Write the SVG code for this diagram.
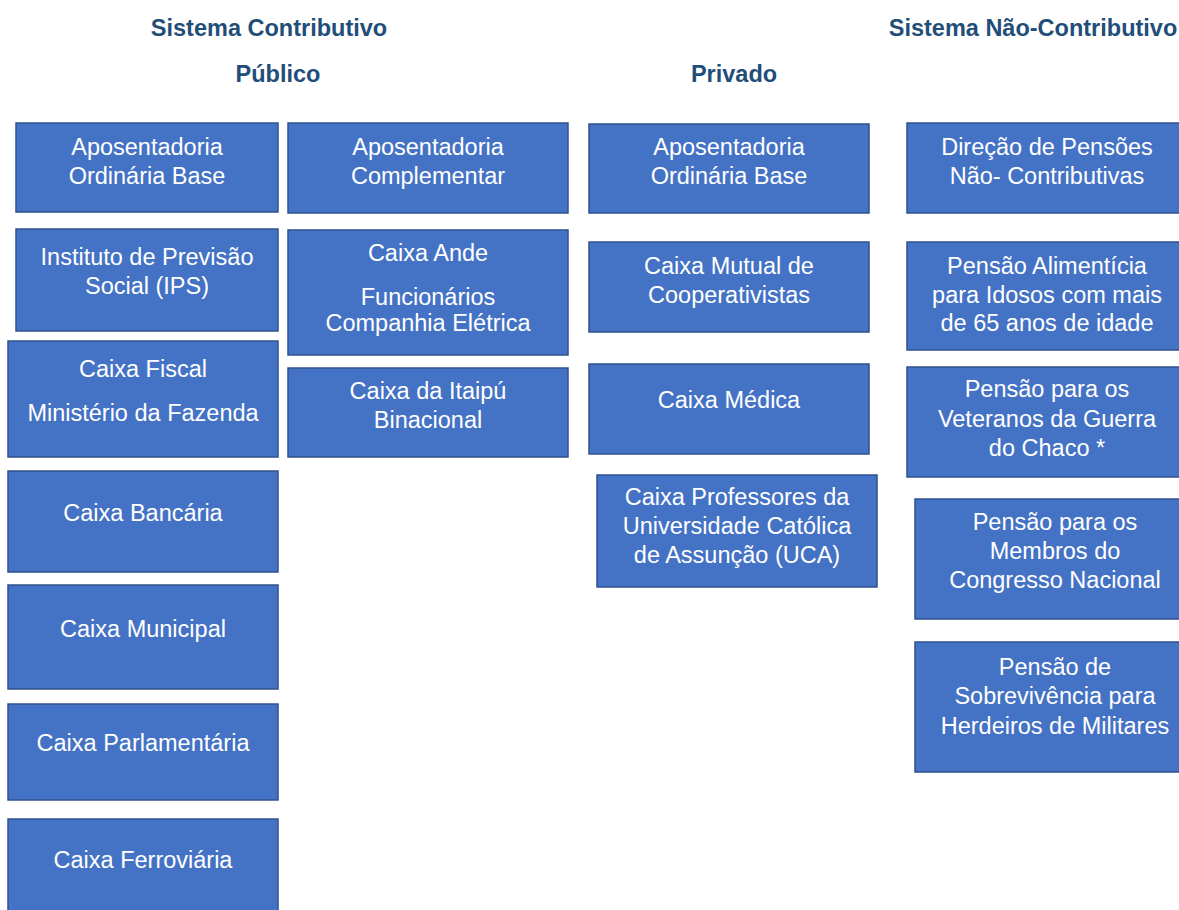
<svg xmlns="http://www.w3.org/2000/svg" width="1179" height="910" viewBox="0 0 1179 910">
<style>
.box{fill:#4472C4;stroke:#2F528F;stroke-width:1.5}
.t{font-family:"Liberation Sans",Arial,sans-serif;font-size:23.5px;fill:#FFFFFF;text-anchor:middle}
.h{font-family:"Liberation Sans",Arial,sans-serif;font-size:23.5px;font-weight:bold;fill:#1F4E79;text-anchor:middle}
</style>
<rect width="1179" height="910" fill="#FFFFFF"/>
<g id="titles">
<text class="h" x="269" y="36">Sistema Contributivo</text>
<text class="h" x="278" y="82">Público</text>
<text class="h" x="734" y="82">Privado</text>
<text class="h" x="1033" y="36">Sistema Não-Contributivo</text>
</g>
<g id="connectors"></g>
<g id="pub1"><rect class="box" x="16" y="123" width="262" height="89"/><text class="t" x="147" y="155">Aposentadoria</text><text class="t" x="147" y="184">Ordinária Base</text></g>
<g id="pub2"><rect class="box" x="16" y="229" width="262" height="102"/><text class="t" x="147" y="265">Instituto de Previsão</text><text class="t" x="147" y="294">Social (IPS)</text></g>
<g id="pub3"><rect class="box" x="8" y="341" width="270" height="116"/><text class="t" x="143" y="377">Caixa Fiscal</text><text class="t" x="143" y="421">Ministério da Fazenda</text></g>
<g id="pub4"><rect class="box" x="8" y="471" width="270" height="101"/><text class="t" x="143" y="521">Caixa Bancária</text></g>
<g id="pub5"><rect class="box" x="8" y="585" width="270" height="104"/><text class="t" x="143" y="637">Caixa Municipal</text></g>
<g id="pub6"><rect class="box" x="8" y="704" width="270" height="96"/><text class="t" x="143" y="751">Caixa Parlamentária</text></g>
<g id="pub7"><rect class="box" x="8" y="819" width="270" height="100"/><text class="t" x="143" y="868">Caixa Ferroviária</text></g>
<g id="comp1"><rect class="box" x="288" y="123" width="280" height="90"/><text class="t" x="428" y="155">Aposentadoria</text><text class="t" x="428" y="184">Complementar</text></g>
<g id="comp2"><rect class="box" x="288" y="230" width="280" height="125"/><text class="t" x="428" y="261">Caixa Ande</text><text class="t" x="428" y="305">Funcionários</text><text class="t" x="428" y="331">Companhia Elétrica</text></g>
<g id="comp3"><rect class="box" x="288" y="368" width="280" height="89"/><text class="t" x="428" y="399">Caixa da Itaipú</text><text class="t" x="428" y="428">Binacional</text></g>
<g id="priv1"><rect class="box" x="589" y="124" width="280" height="89"/><text class="t" x="729" y="155">Aposentadoria</text><text class="t" x="729" y="184">Ordinária Base</text></g>
<g id="priv2"><rect class="box" x="589" y="242" width="280" height="90"/><text class="t" x="729" y="274">Caixa Mutual de</text><text class="t" x="729" y="303">Cooperativistas</text></g>
<g id="priv3"><rect class="box" x="589" y="364" width="280" height="90"/><text class="t" x="729" y="408">Caixa Médica</text></g>
<g id="priv4"><rect class="box" x="597" y="475" width="280" height="112"/><text class="t" x="737" y="505">Caixa Professores da</text><text class="t" x="737" y="534">Universidade Católica</text><text class="t" x="737" y="563">de Assunção (UCA)</text></g>
<g id="nc1"><rect class="box" x="907" y="123" width="280" height="90"/><text class="t" x="1047" y="155">Direção de Pensões</text><text class="t" x="1047" y="184">Não- Contributivas</text></g>
<g id="nc2"><rect class="box" x="907" y="242" width="280" height="108"/><text class="t" x="1047" y="274">Pensão Alimentícia</text><text class="t" x="1047" y="303">para Idosos com mais</text><text class="t" x="1047" y="331">de 65 anos de idade</text></g>
<g id="nc3"><rect class="box" x="907" y="367" width="280" height="110"/><text class="t" x="1047" y="397">Pensão para os</text><text class="t" x="1047" y="427">Veteranos da Guerra</text><text class="t" x="1047" y="456">do Chaco *</text></g>
<g id="nc4"><rect class="box" x="915" y="499" width="280" height="120"/><text class="t" x="1055" y="530">Pensão para os</text><text class="t" x="1055" y="559">Membros do</text><text class="t" x="1055" y="588">Congresso Nacional</text></g>
<g id="nc5"><rect class="box" x="915" y="642" width="280" height="130"/><text class="t" x="1055" y="675">Pensão de</text><text class="t" x="1055" y="704">Sobrevivência para</text><text class="t" x="1055" y="734">Herdeiros de Militares</text></g>
</svg>
